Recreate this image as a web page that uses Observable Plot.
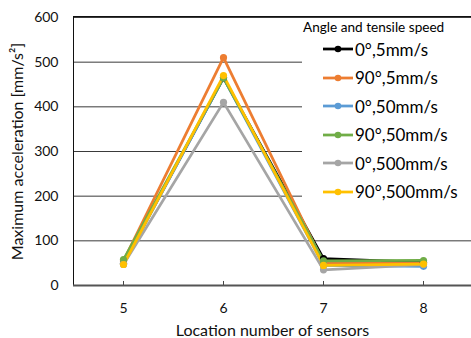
<!DOCTYPE html>
<html><head><meta charset="utf-8">
<script src="https://cdn.jsdelivr.net/npm/d3@7"></script>
<script src="https://cdn.jsdelivr.net/npm/@observablehq/plot@0.6"></script>
<style>
body{margin:0;background:#fff;font-family:Lato,sans-serif;}
#wrap{position:relative;width:471px;height:338px;overflow:hidden;}
#legend{position:absolute;left:302px;top:19px;width:169px;background:#fff;color:#000;}
#legend .t{font-size:13.6px;line-height:16px;padding-left:1px;white-space:nowrap;}
#legend .r{display:flex;align-items:center;height:28.5px;font-size:17px;white-space:nowrap;}
#legend svg{margin-left:21px;margin-right:2px;}
</style></head>
<body><div id="wrap"><div id="chart"></div><div id="legend"></div></div>
<script>
const sensors = [5, 6, 7, 8];
const seriesNames = ["0°,5mm/s", "90°,5mm/s", "0°,50mm/s", "90°,50mm/s", "0°,500mm/s", "90°,500mm/s"];
const seriesColors = ["#000000", "#ED7D31", "#5B9BD5", "#70AD47", "#A5A5A5", "#FFC000"];
const v_0_5 = [50, 465, 60, 52];
const v_90_5 = [55, 510, 50, 50];
const v_0_50 = [48, 465, 45, 43];
const v_90_50 = [58, 465, 55, 56];
const v_0_500 = [47, 410, 35, 47];
const v_90_500 = [47, 470, 45, 48];
const yTicks = [0, 100, 200, 300, 400, 500, 600];
const legendTitle = "Angle and tensile speed";

const allValues = [v_0_5, v_90_5, v_0_50, v_90_50, v_0_500, v_90_500];
const data = [];
allValues.forEach((vals, i) => vals.forEach((v, j) => data.push({series: seriesNames[i], x: sensors[j], y: v})));

const chart = Plot.plot({
  width: 471, height: 338,
  marginLeft: 73, marginTop: 17, marginBottom: 53, marginRight: 0,
  style: {fontFamily: "Lato, sans-serif", background: "#fff", color: "#111"},
  x: {domain: [4.5, 8.5], range: [73, 473]},
  y: {domain: [0, 600], range: [285, 17]},
  color: {domain: seriesNames, range: seriesColors},
  marks: [
    Plot.ruleY(yTicks.filter(d => d > 0), {stroke: "#3a3a3a", strokeWidth: 1}),
    Plot.ruleX([4.5], {stroke: "#111", strokeWidth: 1}),
    Plot.ruleX(sensors, {x: d => d, y1: 0, y2: 9, stroke: "#444", strokeWidth: 1}),
    Plot.ruleY([0], {stroke: "#555", strokeWidth: 2}),
    Plot.axisY({ticks: yTicks, tickSize: 0, tickPadding: 15, fontSize: 14, label: "Maximum acceleration [mm/s²]", labelAnchor: "center", labelArrow: "none", labelOffset: 62, fill: "#111"}),
    Plot.axisX({ticks: sensors, tickSize: 0, tickPadding: 18, fontSize: 14, tickFormat: d => String(d), label: "Location number of sensors", labelAnchor: "center", labelArrow: "none", labelOffset: 50, fill: "#111"}),
    Plot.lineY(data, {x: "x", y: "y", z: "series", stroke: "series", strokeWidth: 2.75}),
    Plot.dot(data, {x: "x", y: "y", fill: "series", r: 3.6})
  ]
});
document.getElementById("chart").appendChild(chart);
chart.querySelectorAll("g[aria-label='y-axis label'] text, g[aria-label='x-axis label'] text").forEach(t => t.setAttribute("font-size", "16"));
const svg = d3.select(chart);
svg.append("line").attr("x1", 73).attr("x2", 471).attr("y1", 16.5).attr("y2", 16.5).attr("stroke", "#111");

const lg = document.getElementById("legend");
lg.innerHTML = `<div class="t">${legendTitle}</div>` + seriesNames.map((n, i) =>
  `<div class="r"><svg width="30" height="10"><line x1="0" x2="30" y1="5" y2="5" stroke="${seriesColors[i]}" stroke-width="2.75"/><circle cx="15" cy="5" r="3.3" fill="${seriesColors[i]}"/></svg><span>${n}</span></div>`).join("");
</script></body></html>
